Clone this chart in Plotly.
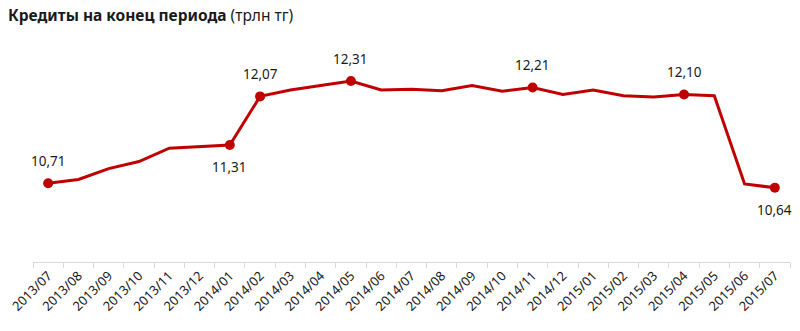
import plotly.graph_objects as go

months = ["2013/07","2013/08","2013/09","2013/10","2013/11","2013/12",
          "2014/01","2014/02","2014/03","2014/04","2014/05","2014/06",
          "2014/07","2014/08","2014/09","2014/10","2014/11","2014/12",
          "2015/01","2015/02","2015/03","2015/04","2015/05","2015/06","2015/07"]
credits = [10.71,10.77,10.94,11.05,11.26,11.28,11.31,12.07,12.17,12.24,12.31,12.17,
           12.18,12.16,12.24,12.15,12.21,12.10,12.17,12.08,12.06,12.10,12.08,10.70,10.64]
# labelled points: index -> label above (+1) or below (-1)
label_idx = [0, 6, 7, 10, 16, 21, 24]
label_side = [1, -1, 1, 1, 1, 1, -1]

RED = "#C00000"
fig = go.Figure()
fig.add_trace(go.Scatter(x=months, y=credits, mode="lines",
                         line=dict(color=RED, width=3), hoverinfo="skip"))
fig.add_trace(go.Scatter(x=[months[i] for i in label_idx], y=[credits[i] for i in label_idx],
                         mode="markers", marker=dict(color=RED, size=10)))

for i, s in zip(label_idx, label_side):
    fig.add_annotation(x=months[i], y=credits[i], text=f"{credits[i]:.2f}".replace(".", ","),
                       showarrow=False, yshift=22*s,
                       font=dict(family="Noto Sans", size=13.5, color="#1a1a1a"))

fig.add_annotation(xref="paper", yref="paper", x=0, y=1, xanchor="left", yanchor="top",
                   xshift=-27, yshift=28,
                   text="<b>Кредиты на конец периода</b> (трлн тг)", showarrow=False,
                   font=dict(family="Noto Sans", size=15.5, color="#1a1a1a"))

fig.update_layout(
    width=800, height=331, showlegend=False,
    margin=dict(l=33, r=10, t=30, b=69),
    plot_bgcolor="white", paper_bgcolor="white",
    font=dict(family="Noto Sans", size=12, color="#333"),
)
fig.update_xaxes(type="category", range=[-0.5, len(months) - 0.5], tickangle=-45,
                 tickson="boundaries", ticks="outside",
                 ticklen=5, tickcolor="#d9d9d9", showline=True, linecolor="#d9d9d9",
                 linewidth=1, showgrid=False, automargin=False,
                 tickfont=dict(size=13, color="#1a1a1a"))
fig.update_yaxes(range=[9.478, 13.109], visible=False, showgrid=False, automargin=False)

fig.write_html("out.html")
